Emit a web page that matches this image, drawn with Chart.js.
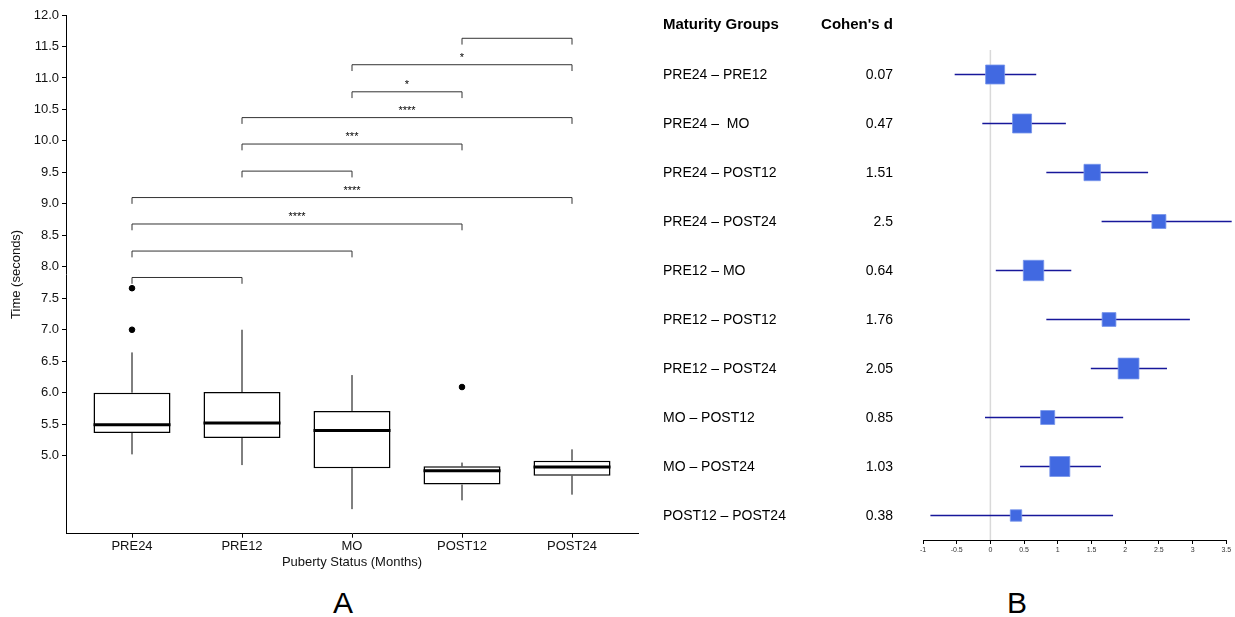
<!DOCTYPE html>
<html>
<head>
<meta charset="utf-8">
<script src="https://cdn.jsdelivr.net/npm/chart.js@4.4.0/dist/chart.umd.min.js"></script>
<style>
  body { margin: 0; background: #fff; width: 1235px; height: 617px; overflow: hidden; position: relative; font-family: "Liberation Sans", Arial, sans-serif; }
  #boxWrap { position: absolute; left: 0; top: 0; width: 645px; height: 574px; }
  #forestWrap { position: absolute; left: 645px; top: 0; width: 597px; height: 561px; }
  .panel { position: absolute; top: 585px; width: 40px; text-align: center; font-size: 30px; line-height: 36px; color: #000; }
</style>
</head>
<body>
<div id="boxWrap"><canvas id="boxChart"></canvas></div>
<div id="forestWrap"><canvas id="forestChart"></canvas></div>
<div class="panel" style="left:323px">A</div>
<div class="panel" style="left:997px">B</div>
<script>
// ---- panel A: box plots ----
const groups = ['PRE24', 'PRE12', 'MO', 'POST12', 'POST24'];
const whiskerLow = [5.02, 4.85, 4.15, 4.29, 4.38];
const q1 = [5.36, 5.28, 4.80, 4.54, 4.68];
const median = [5.49, 5.52, 5.40, 4.76, 4.82];
const q3 = [6.00, 6.01, 5.71, 4.83, 4.92];
const whiskerHigh = [6.64, 7.00, 6.28, 4.89, 5.10];
const outlierGroup = [0, 0, 3];
const outlierValue = [7.66, 7.00, 6.09];
const yTicks = [5.0, 5.5, 6.0, 6.5, 7.0, 7.5, 8.0, 8.5, 9.0, 9.5, 10.0, 10.5, 11.0, 11.5, 12.0];

// significance brackets (group index from/to, height, label)
const bracketFrom = [3, 2, 2, 1, 1, 1, 0, 0, 0, 0];
const bracketTo = [4, 4, 3, 4, 3, 2, 4, 3, 2, 1];
const bracketHeight = [11.63, 11.21, 10.78, 10.37, 9.95, 9.52, 9.10, 8.68, 8.25, 7.83];
const bracketLabel = ['', '*', '*', '****', '***', '', '****', '****', '', ''];

// ---- panel B: forest plot ----
const comparisons = ['PRE24 \u2013 PRE12', 'PRE24 \u2013  MO', 'PRE24 \u2013 POST12', 'PRE24 \u2013 POST24', 'PRE12 \u2013 MO',
  'PRE12 \u2013 POST12', 'PRE12 \u2013 POST24', 'MO \u2013 POST12', 'MO \u2013 POST24', 'POST12 \u2013 POST24'];
const cohenD = [0.07, 0.47, 1.51, 2.5, 0.64, 1.76, 2.05, 0.85, 1.03, 0.38];
const ciLow = [-0.53, -0.12, 0.83, 1.65, 0.08, 0.83, 1.49, -0.08, 0.44, -0.89];
const ciHigh = [0.68, 1.12, 2.34, 3.58, 1.20, 2.96, 2.62, 1.97, 1.64, 1.82];
const weight = [9.5, 9.5, 8.2, 7.0, 10.2, 6.9, 10.4, 7.0, 10.0, 5.7];
const forestTicks = [-1, -0.5, 0, 0.5, 1, 1.5, 2, 2.5, 3, 3.5];

const FONT = "'Liberation Sans', Arial, sans-serif";

const boxExtras = {
  id: 'boxExtras',
  beforeDatasetsDraw(chart) {
    const { ctx, scales: { x, y } } = chart;
    ctx.save();
    ctx.strokeStyle = '#000';
    ctx.lineWidth = 1;
    groups.forEach((g, i) => {
      const px = x.getPixelForValue(i);
      ctx.beginPath();
      ctx.moveTo(px, y.getPixelForValue(whiskerLow[i]));
      ctx.lineTo(px, y.getPixelForValue(q1[i]));
      ctx.moveTo(px, y.getPixelForValue(q3[i]));
      ctx.lineTo(px, y.getPixelForValue(whiskerHigh[i]));
      ctx.stroke();
    });
    ctx.restore();
  },
  afterDatasetsDraw(chart) {
    const { ctx, scales: { x, y } } = chart;
    const bars = chart.getDatasetMeta(0).data;
    ctx.save();
    // medians
    ctx.strokeStyle = '#000';
    ctx.lineWidth = 3;
    bars.forEach((bar, i) => {
      const py = y.getPixelForValue(median[i]);
      ctx.beginPath();
      ctx.moveTo(bar.x - bar.width / 2, py);
      ctx.lineTo(bar.x + bar.width / 2, py);
      ctx.stroke();
    });
    // brackets
    ctx.strokeStyle = '#333';
    ctx.lineWidth = 1;
    ctx.fillStyle = '#000';
    ctx.font = '11px ' + FONT;
    ctx.textAlign = 'center';
    ctx.textBaseline = 'alphabetic';
    bracketHeight.forEach((h, i) => {
      const x1 = x.getPixelForValue(bracketFrom[i]);
      const x2 = x.getPixelForValue(bracketTo[i]);
      const py = y.getPixelForValue(h);
      const tip = y.getPixelForValue(h - 0.1);
      ctx.beginPath();
      ctx.moveTo(x1, tip);
      ctx.lineTo(x1, py);
      ctx.lineTo(x2, py);
      ctx.lineTo(x2, tip);
      ctx.stroke();
      if (bracketLabel[i]) ctx.fillText(bracketLabel[i], (x1 + x2) / 2, py - 4);
    });
    ctx.restore();
  }
};

new Chart(document.getElementById('boxChart'), {
  type: 'bar',
  data: {
    datasets: [{
      label: 'IQR',
      data: groups.map((g, i) => ({ x: i, y: [q1[i], q3[i]] })),
      backgroundColor: '#fff',
      borderColor: '#000',
      borderWidth: 1.5,
      borderSkipped: false,
      barPercentage: 0.7,
      categoryPercentage: 1
    }, {
      type: 'scatter',
      label: 'Outliers',
      data: outlierValue.map((v, i) => ({ x: outlierGroup[i], y: v })),
      backgroundColor: '#000',
      borderColor: '#000',
      pointRadius: 2.8
    }]
  },
  options: {
    responsive: true,
    maintainAspectRatio: false,
    animation: false,
    layout: { padding: { top: 15, right: 7, left: 0, bottom: 0 } },
    plugins: { legend: { display: false }, tooltip: { enabled: false } },
    scales: {
      x: {
        type: 'linear',
        offset: false,
        min: -0.6,
        max: 4.6,
        afterBuildTicks: s => { s.ticks = groups.map((g, i) => ({ value: i })); },
        afterFit: s => { s.height = 40.3; },
        ticks: { callback: v => groups[v], color: '#111', font: { family: FONT, size: 13 }, padding: 1, maxRotation: 0 },
        grid: { offset: false, drawOnChartArea: false, tickLength: 4, color: '#000' },
        border: { color: '#000', width: 1 },
        title: { display: true, text: 'Puberty Status (Months)', color: '#111', font: { family: FONT, size: 13 }, padding: { top: 0, bottom: 4 } }
      },
      y: {
        min: 3.76,
        max: 12,
        afterBuildTicks: s => { s.ticks = yTicks.map(v => ({ value: v })); },
        afterFit: s => { s.width = 66; },
        ticks: { callback: v => v.toFixed(1), color: '#111', font: { family: FONT, size: 13 }, padding: 3 },
        grid: { drawOnChartArea: false, tickLength: 4, color: '#000' },
        border: { color: '#000', width: 1 },
        title: { display: true, text: 'Time (seconds)', color: '#111', font: { family: FONT, size: 13 }, padding: { top: 9, bottom: 0 } }
      }
    }
  },
  plugins: [boxExtras]
});

const forestExtras = {
  id: 'forestExtras',
  beforeDatasetsDraw(chart) {
    const { ctx, chartArea, scales: { x, y } } = chart;
    ctx.save();
    // reference line at d = 0
    const zx = x.getPixelForValue(0);
    ctx.strokeStyle = '#d9d9d9';
    ctx.lineWidth = 1.5;
    ctx.beginPath();
    ctx.moveTo(zx, chartArea.top);
    ctx.lineTo(zx, chartArea.bottom);
    ctx.stroke();
    // confidence intervals
    ctx.strokeStyle = '#17179a';
    ctx.lineWidth = 1.5;
    cohenD.forEach((d, i) => {
      const py = y.getPixelForValue(i);
      ctx.beginPath();
      ctx.moveTo(x.getPixelForValue(ciLow[i]), py);
      ctx.lineTo(x.getPixelForValue(ciHigh[i]), py);
      ctx.stroke();
    });
    // text columns
    ctx.fillStyle = '#000';
    ctx.textBaseline = 'middle';
    ctx.font = 'bold 15px ' + FONT;
    ctx.textAlign = 'left';
    ctx.fillText('Maturity Groups', 18, 25);
    ctx.textAlign = 'right';
    ctx.fillText("Cohen's d", 248, 25);
    ctx.font = '14px ' + FONT;
    comparisons.forEach((c, i) => {
      const py = y.getPixelForValue(i) + 1;
      ctx.textAlign = 'left';
      ctx.fillText(c, 18, py);
      ctx.textAlign = 'right';
      ctx.fillText(String(cohenD[i]), 248, py);
    });
    ctx.restore();
  }
};

new Chart(document.getElementById('forestChart'), {
  type: 'scatter',
  data: {
    datasets: [{
      label: "Cohen's d",
      data: cohenD.map((d, i) => ({ x: d, y: i })),
      pointStyle: 'rect',
      pointRadius: weight.map(w => (2 * w) / Math.SQRT2),
      backgroundColor: '#4169e1',
      borderColor: 'rgba(120,150,235,0.8)',
      borderWidth: 1
    }]
  },
  options: {
    responsive: true,
    maintainAspectRatio: false,
    animation: false,
    layout: { padding: { top: 50, left: 278, right: 2, bottom: 0 } },
    plugins: { legend: { display: false }, tooltip: { enabled: false } },
    scales: {
      x: {
        type: 'linear',
        min: -1,
        max: 3.5,
        afterBuildTicks: s => { s.ticks = forestTicks.map(v => ({ value: v })); },
        afterFit: s => { s.height = 21; },
        ticks: { callback: v => String(v), color: '#333', font: { family: FONT, size: 7 }, padding: 2, maxRotation: 0 },
        grid: { drawOnChartArea: false, tickLength: 4, color: '#000' },
        border: { color: '#000', width: 1 }
      },
      y: {
        type: 'linear',
        display: false,
        reverse: true,
        min: -0.5,
        max: 9.5
      }
    }
  },
  plugins: [forestExtras]
});
</script>
</body>
</html>
